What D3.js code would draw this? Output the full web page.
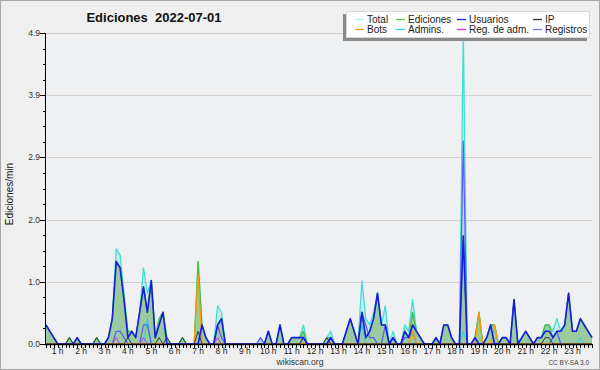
<!DOCTYPE html>
<html>
<head>
<meta charset="utf-8">
<script src="https://cdn.jsdelivr.net/npm/d3@7"></script>
<style>
  body { margin: 0; background: #fff; }
  svg { display: block; font-family: "Liberation Sans", Arial, sans-serif; }
</style>
</head>
<body>
<div id="chart"></div>
<script>
// Ediciones por minuto, one value per 10-minute slot (slot 0 = 00:00)
const usuarios = [
  0.3, 0.2, 0.1, 0, 0, 0, 0, 0, 0.1, 0,
  0, 0, 0, 0, 0, 0, 0.1, 0.4, 1.3, 1.2,
  0.7, 0.1, 0.2, 0.1, 0.5, 0.9, 0.5, 1.0, 0.1, 0.3,
  0.5, 0, 0, 0, 0, 0, 0, 0, 0, 0,
  0.3, 0.1, 0, 0, 0.3, 0.4, 0, 0, 0, 0,
  0, 0, 0, 0, 0, 0, 0, 0.2, 0, 0,
  0.3, 0, 0, 0.1, 0.1, 0.1, 0.1, 0, 0, 0,
  0, 0, 0, 0.1, 0, 0, 0, 0.2, 0.4, 0.2,
  0, 0.5, 0.1, 0.2, 0.4, 0.8, 0.3, 0.3, 0, 0.1,
  0, 0, 0.2, 0.1, 0.3, 0.2, 0.1, 0, 0, 0,
  0.1, 0, 0.3, 0.3, 0.1, 0, 0, 1.7, 0, 0,
  0.1, 0, 0, 0.1, 0.3, 0, 0, 0.1, 0.1, 0,
  0.7, 0, 0.1, 0.2, 0.1, 0, 0.1, 0.1, 0.2, 0.2,
  0.1, 0.2, 0.2, 0.3, 0.8, 0.2, 0.2, 0.4, 0.3, 0.2,
  0.1
];

const ediciones = [
  0.3, 0.2, 0.1, 0, 0, 0, 0.1, 0, 0.1, 0,
  0, 0, 0, 0.1, 0, 0, 0.1, 0.4, 1.3, 1.2,
  0.7, 0.2, 0.2, 0.1, 0.5, 0.9, 0.5, 1.0, 0.1, 0.4,
  0.5, 0.1, 0, 0, 0, 0.1, 0, 0, 0, 1.3,
  0.3, 0.1, 0, 0, 0.3, 0.4, 0, 0, 0, 0,
  0, 0, 0, 0, 0, 0, 0, 0.2, 0, 0,
  0.3, 0, 0, 0.1, 0.1, 0.1, 0.2, 0, 0, 0,
  0, 0, 0.1, 0.1, 0, 0, 0, 0.2, 0.4, 0.2,
  0, 0.5, 0.1, 0.2, 0.4, 0.8, 0.3, 0.3, 0, 0.1,
  0, 0, 0.2, 0.1, 0.5, 0.2, 0.1, 0, 0, 0,
  0.1, 0, 0.3, 0.3, 0.1, 0, 0, 1.7, 0, 0,
  0.1, 0.5, 0, 0.1, 0.3, 0.3, 0, 0.1, 0.1, 0,
  0.7, 0, 0.1, 0.2, 0.1, 0, 0.1, 0.1, 0.3, 0.3,
  0.1, 0.2, 0.2, 0.3, 0.8, 0.2, 0.2, 0.4, 0.3, 0.2,
  0.1
];

const total = [
  0.3, 0.2, 0.1, 0, 0, 0, 0.1, 0, 0.1, 0,
  0, 0, 0, 0.1, 0, 0, 0.1, 0.4, 1.5, 1.4,
  0.8, 0.2, 0.2, 0.1, 0.5, 1.2, 0.8, 1.0, 0.1, 0.4,
  0.5, 0.1, 0, 0, 0, 0.1, 0, 0, 0, 1.3,
  0.3, 0.1, 0, 0, 0.6, 0.5, 0, 0, 0, 0,
  0, 0, 0, 0, 0, 0.1, 0, 0.2, 0, 0,
  0.3, 0, 0, 0.1, 0.1, 0.1, 0.3, 0, 0, 0,
  0, 0, 0.1, 0.2, 0, 0, 0, 0.2, 0.4, 0.2,
  0, 1.0, 0.4, 0.3, 0.5, 0.8, 0.3, 0.6, 0, 0.2,
  0, 0, 0.3, 0.2, 0.7, 0.2, 0.1, 0, 0, 0,
  0.1, 0, 0.3, 0.3, 0.1, 0, 0, 4.9, 0, 0,
  0.1, 0.5, 0, 0.1, 0.3, 0.3, 0, 0.1, 0.1, 0,
  0.7, 0, 0.1, 0.2, 0.1, 0, 0.1, 0.1, 0.3, 0.3,
  0.2, 0.4, 0.2, 0.3, 0.8, 0.2, 0.2, 0.4, 0.3, 0.2,
  0.1
];

// the rarer series: [slot, value], every other slot is 0
const ipSlots = [[6, 0.1], [13, 0.1], [21, 0.1], [29, 0.1], [31, 0.1], [35, 0.1],
  [39, 0.2], [66, 0.1], [72, 0.1], [128, 0.1], [129, 0.1]];
const botsSlots = [[39, 1.1], [94, 0.2], [111, 0.5], [115, 0.3]];
const adminsSlots = [[26, 0.4], [81, 0.3], [107, 0.2], [137, 0.1]];
const regAdmSlots = [[18, 0.1], [25, 0.1], [44, 0.1]];
const registrosSlots = [[18, 0.2], [19, 0.2], [20, 0.1], [25, 0.3], [26, 0.3], [44, 0.3],
  [45, 0.1], [55, 0.1], [66, 0.1], [73, 0.1], [81, 0.5], [82, 0.3], [83, 0.1], [84, 0.1],
  [87, 0.3], [89, 0.1], [92, 0.1], [93, 0.1], [94, 0.2], [107, 3.2], [130, 0.1], [131, 0.2]];

const hourLabels = ["1 h", "2 h", "3 h", "4 h", "5 h", "6 h", "7 h", "8 h", "9 h", "10 h",
  "11 h", "12 h", "13 h", "14 h", "15 h", "16 h", "17 h", "18 h", "19 h", "20 h",
  "21 h", "22 h", "23 h"];

const legendNames = ["Total", "Bots", "Ediciones", "Admins.", "Usuarios", "Reg. de adm.", "IP", "Registros"];
const legendColors = ["#aaeeee", "#ff9900", "#55cc55", "#33ccdd", "#2222ee", "#dd33ee", "#333333", "#7777ff"];

const yMax = 4.9;
const lastSlot = 140;

function expand(pairs) {
  const arr = new Array(total.length).fill(0);
  pairs.forEach(p => { arr[p[0]] = p[1]; });
  return arr;
}
const ip = expand(ipSlots);
const bots = expand(botsSlots);
const admins = expand(adminsSlots);
const regAdm = expand(regAdmSlots);
const registros = expand(registrosSlots);

const W = 600, H = 370;
const margin = { top: 33, right: 8, bottom: 26, left: 46 };

const svg = d3.select("#chart").append("svg")
  .attr("width", W)
  .attr("height", H);

svg.append("rect")
  .attr("x", 0.5).attr("y", 0.5)
  .attr("width", W - 1).attr("height", H - 1)
  .attr("fill", "#efefef")
  .attr("stroke", "#a8a8a8");

const x = d3.scaleLinear().domain([0, lastSlot]).range([margin.left, W - margin.right]);
const y = d3.scaleLinear().domain([0, yMax]).range([H - margin.bottom, margin.top]);

// plot background
svg.append("rect")
  .attr("x", x(0)).attr("y", y(yMax))
  .attr("width", x(lastSlot) - x(0)).attr("height", y(0) - y(yMax))
  .attr("fill", "#eef0f2");

// grid
const majorTicks = d3.range(6).map(k => k * yMax / 5);
const minorTicks = d3.range(21).map(k => k * yMax / 20);

svg.append("g")
  .selectAll("line")
  .data(majorTicks.slice(1))
  .join("line")
  .attr("x1", x(0)).attr("x2", x(lastSlot))
  .attr("y1", d => Math.round(y(d)) + 0.5).attr("y2", d => Math.round(y(d)) + 0.5)
  .attr("stroke", "#cfcfcf");

// areas
const area = d3.area()
  .x((d, i) => x(i))
  .y0(y(0))
  .y1(d => y(d));

const line = d3.line()
  .x((d, i) => x(i))
  .y(d => y(d));

svg.append("path").datum(total)
  .attr("fill", "rgba(64,224,208,0.22)")
  .attr("d", area);
svg.append("path").datum(registros)
  .attr("fill", "rgba(150,150,225,0.25)")
  .attr("d", area);
svg.append("path").datum(ediciones)
  .attr("fill", "#99cb9f")
  .attr("d", area);

// lines
const series = [
  { data: total, color: "#40e0d0", w: 1.3 },
  { data: admins, color: "#33ccdd", w: 1 },
  { data: ediciones, color: "#44bb44", w: 1.2 },
  { data: registros, color: "#5a5aff", w: 1.2 },
  { data: regAdm, color: "#cc33ee", w: 1 },
  { data: bots, color: "#ff9900", w: 1.3 },
  { data: ip, color: "#3a3a3a", w: 1 },
  { data: usuarios, color: "#1a1ae0", w: 1.6 }
];

svg.append("g")
  .selectAll("path")
  .data(series)
  .join("path")
  .attr("fill", "none")
  .attr("stroke", d => d.color)
  .attr("stroke-width", d => d.w)
  .attr("stroke-linejoin", "round")
  .attr("d", d => line(d.data));

// y axis
const yAxis = svg.append("g").attr("font-size", 8.5).attr("fill", "#333");
yAxis.append("line")
  .attr("x1", x(0) - 0.5).attr("x2", x(0) - 0.5)
  .attr("y1", y(yMax)).attr("y2", y(0))
  .attr("stroke", "#000");
yAxis.selectAll(".minor")
  .data(minorTicks)
  .join("line")
  .attr("x1", x(0) - 3).attr("x2", x(0))
  .attr("y1", d => Math.round(y(d)) + 0.5).attr("y2", d => Math.round(y(d)) + 0.5)
  .attr("stroke", "#000");
yAxis.selectAll(".major")
  .data(majorTicks)
  .join("line")
  .attr("x1", x(0) - 6).attr("x2", x(0))
  .attr("y1", d => Math.round(y(d)) + 0.5).attr("y2", d => Math.round(y(d)) + 0.5)
  .attr("stroke", "#000");
yAxis.selectAll("text")
  .data(majorTicks)
  .join("text")
  .attr("x", x(0) - 6)
  .attr("y", d => y(d) + 3)
  .attr("text-anchor", "end")
  .text(d3.format(".1f"));

// x axis
const xAxis = svg.append("g").attr("font-size", 8.5).attr("fill", "#222");
xAxis.append("line")
  .attr("x1", x(0) - 1).attr("x2", x(lastSlot))
  .attr("y1", y(0) + 0.5).attr("y2", y(0) + 0.5)
  .attr("stroke", "#000").attr("stroke-width", 1.5);
xAxis.selectAll("line.t")
  .data(d3.range(lastSlot + 1))
  .join("line")
  .attr("class", "t")
  .attr("x1", d => Math.round(x(d)) + 0.5).attr("x2", d => Math.round(x(d)) + 0.5)
  .attr("y1", y(0)).attr("y2", y(0) + 4)
  .attr("stroke", "#000");
xAxis.selectAll("text")
  .data(hourLabels)
  .join("text")
  .attr("x", (d, i) => x(6 * (i + 1) - 3))
  .attr("y", y(0) + 9.5)
  .attr("text-anchor", "middle")
  .text(d => d);

// titles
svg.append("text")
  .attr("x", 154).attr("y", 22)
  .attr("text-anchor", "middle")
  .attr("font-size", 13).attr("font-weight", "bold")
  .attr("fill", "#111")
  .style("white-space", "pre")
  .text("Ediciones  2022-07-01");

svg.append("text")
  .attr("transform", "translate(13,194) rotate(-90)")
  .attr("text-anchor", "middle")
  .attr("font-size", 10)
  .attr("fill", "#111")
  .text("Ediciones/min");

svg.append("text")
  .attr("x", 300).attr("y", 364.5)
  .attr("text-anchor", "middle")
  .attr("font-size", 8.5).attr("fill", "#333")
  .text("wikiscan.org");

svg.append("text")
  .attr("x", 589).attr("y", 365)
  .attr("text-anchor", "end")
  .attr("font-size", 6.5).attr("fill", "#444")
  .text("CC BY-SA 3.0");

// legend
const legend = svg.append("g");
legend.append("rect")
  .attr("x", 343).attr("y", 14).attr("width", 244).attr("height", 27)
  .attr("fill", "#8a8a8a");
legend.append("rect")
  .attr("x", 346.5).attr("y", 11.5).attr("width", 243).attr("height", 26)
  .attr("fill", "#fff").attr("stroke", "#d8d8d8");

const colX = [367, 408, 469, 545];
const items = legend.selectAll("g")
  .data(legendNames)
  .join("g")
  .attr("transform", (d, i) => `translate(${colX[Math.floor(i / 2)]},${i % 2 === 0 ? 19.5 : 29.5})`);
items.append("line")
  .attr("x1", -12).attr("x2", -3)
  .attr("stroke", (d, i) => legendColors[i])
  .attr("stroke-width", 1.3);
items.append("text")
  .attr("y", 3.5)
  .attr("font-size", 10)
  .attr("fill", "#222")
  .text(d => d);
</script>
</body>
</html>
